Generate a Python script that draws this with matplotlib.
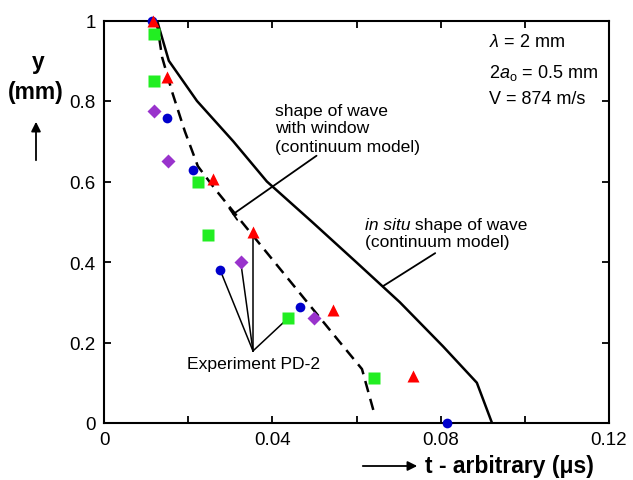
import numpy as np
import matplotlib
matplotlib.use('Agg')
import matplotlib.pyplot as plt
from matplotlib.ticker import MultipleLocator

plt.rcParams['font.family'] = ['Liberation Sans', 'DejaVu Sans']
plt.rcParams['mathtext.fontset'] = 'custom'
plt.rcParams['mathtext.rm'] = 'Liberation Sans'
plt.rcParams['mathtext.it'] = 'Liberation Sans:italic'

# in situ shape of wave (continuum model)
insitu_t = [0.0126, 0.0154, 0.0221, 0.0307, 0.0387, 0.0494, 0.0599, 0.0703, 0.0806, 0.0886, 0.0922]
insitu_y = [1.0, 0.9, 0.8, 0.7, 0.6, 0.5, 0.4, 0.3, 0.19, 0.1, 0.0]

# shape of wave with window (continuum model)
window_t = [0.0122, 0.0128, 0.0138, 0.0162, 0.0192, 0.0223, 0.0264, 0.0327, 0.0405, 0.0483, 0.0561, 0.0613, 0.0644]
window_y = [1.0, 0.979, 0.909, 0.822, 0.725, 0.638, 0.581, 0.5, 0.4, 0.3, 0.2, 0.134, 0.017]

# Experiment PD-2 points
blue_t = [0.0114, 0.0150, 0.0212, 0.0276, 0.0466, 0.0815]
blue_y = [1.0, 0.758, 0.629, 0.380, 0.288, 0.0]
red_t = [0.0116, 0.0149, 0.0259, 0.0354, 0.0544, 0.0734]
red_y = [1.0, 0.859, 0.606, 0.475, 0.281, 0.117]
green_t = [0.0119, 0.0119, 0.0223, 0.0247, 0.0437, 0.0642]
green_y = [0.966, 0.850, 0.598, 0.467, 0.260, 0.112]
purple_t = [0.0119, 0.0151, 0.0325, 0.0499]
purple_y = [0.776, 0.650, 0.399, 0.260]

W, H = 633, 481
fig = plt.figure(figsize=(W / 100, H / 100), dpi=100)
ax = fig.add_axes([104 / W, 1 - 424 / H, 505 / W, 402.5 / H])

ax.plot(insitu_t, insitu_y, color='black', lw=1.8, zorder=2)
ax.plot(window_t, window_y, color='black', lw=1.8, dashes=(4.6, 2.8), zorder=2)

# leader lines for "Experiment PD-2"
apex = (0.0354, 0.179)
for (t, y) in [(blue_t[3], blue_y[3]), (purple_t[2], purple_y[2]), (red_t[3], red_y[3]), (green_t[4], green_y[4])]:
    ax.plot([apex[0], t], [apex[1], y], color='black', lw=1.1, zorder=1)

ax.plot(blue_t, blue_y, 'o', color='#0000cc', ms=7, mec='none', zorder=3, clip_on=False)
ax.plot(green_t, green_y, 's', color='#22ee22', ms=8, mec='none', zorder=3, clip_on=False)
ax.plot(purple_t, purple_y, 'D', color='#9933cc', ms=6.8, mec='none', zorder=3, clip_on=False)
ax.plot(red_t, red_y, '^', color='#ff0000', ms=9, mec='none', zorder=4, clip_on=False)

ax.text(0.0356, 0.147, 'Experiment PD-2', fontsize=12.6, ha='center', va='center')

# shape of wave with window
ax.text(0.0406, 0.777, 'shape of wave', fontsize=12.6, ha='left', va='center')
ax.text(0.0406, 0.733, 'with window', fontsize=12.6, ha='left', va='center')
ax.text(0.0406, 0.688, '(continuum model)', fontsize=12.6, ha='left', va='center')
ax.annotate('', xy=(0.0307, 0.519), xytext=(0.0505, 0.664),
            arrowprops=dict(arrowstyle='-[, widthB=0.5, lengthB=0', lw=1.3, color='black',
                            shrinkA=0, shrinkB=0, mutation_scale=10))

# in situ shape of wave
t1 = ax.text(0.0620, 0.494, 'in situ', fontsize=12.5, style='italic', ha='left', va='center')
ax.annotate(' shape of wave', xy=(1, 0), xycoords=t1, fontsize=12.5, ha='left', va='bottom')
ax.text(0.0620, 0.452, '(continuum model)', fontsize=12.5, ha='left', va='center')
ax.annotate('', xy=(0.0663, 0.340), xytext=(0.0787, 0.422),
            arrowprops=dict(arrowstyle='-', lw=1.3, color='black', shrinkA=0, shrinkB=0))

# parameters
ax.text(0.0915, 0.949, r'$\lambda$ = 2 mm', fontsize=13, ha='left', va='center')
ax.text(0.0915, 0.872, r'2$\mathit{a}_\mathrm{o}$ = 0.5 mm', fontsize=13, ha='left', va='center')
ax.text(0.0915, 0.805, 'V = 874 m/s', fontsize=13, ha='left', va='center')

ax.set_xlim(0, 0.12)
ax.set_ylim(0, 1)
ax.xaxis.set_minor_locator(MultipleLocator(0.02))
ax.set_xticks([0, 0.04, 0.08, 0.12])
ax.set_xticklabels(['0', '0.04', '0.08', '0.12'])
ax.set_yticks([0, 0.2, 0.4, 0.6, 0.8, 1.0])
ax.set_yticklabels(['0', '0.2', '0.4', '0.6', '0.8', '1'])
ax.tick_params(which='both', direction='in', top=True, right=True, width=1.3, labelsize=13.5, pad=6,
               length=5)
for s in ax.spines.values():
    s.set_linewidth(1.5)

# axis labels with arrows
fig.text(38 / W, 1 - 62 / H, 'y', fontsize=16.5, fontweight='bold', ha='center', va='center')
fig.text(36 / W, 1 - 92 / H, '(mm)', fontsize=16.5, fontweight='bold', ha='center', va='center')
fig.add_artist(matplotlib.patches.FancyArrowPatch((36 / W, 1 - 164 / H), (36 / W, 1 - 120 / H),
               transform=fig.transFigure, arrowstyle='-|>', mutation_scale=14, lw=1.3, color='black'))
fig.add_artist(matplotlib.patches.FancyArrowPatch((360 / W, 1 - 467 / H), (420 / W, 1 - 467 / H),
               transform=fig.transFigure, arrowstyle='-|>', mutation_scale=14, lw=1.3, color='black'))
fig.text(425 / W, 1 - 467 / H, 't - arbitrary (\u03bcs)', fontsize=16.5, fontweight='bold', ha='left', va='center')

fig.savefig('out.png', dpi=100)
